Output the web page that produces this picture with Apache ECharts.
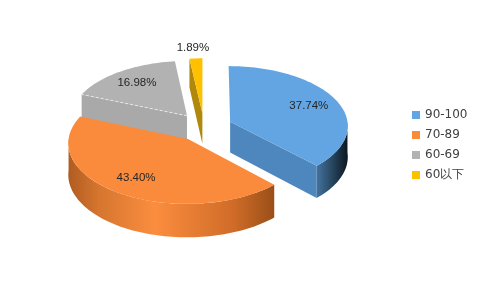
<!DOCTYPE html>
<html>
<head>
<meta charset="utf-8">
<script src="https://cdn.jsdelivr.net/npm/echarts@6/dist/echarts.min.js"></script>
<style>
html,body{margin:0;padding:0;background:#fff;}
#chart{width:480px;height:288px;}
</style>
</head>
<body>
<div id="chart"></div>
<script>
// ---- data ----
const categories = ['90-100', '70-89', '60-69', '60以下'];
const counts = [20, 23, 9, 1];

// ---- styles ----
const topColors = ['#62a5e2', '#fb8b3c', '#b2b2b2', '#ffc000'];
const cutColors = ['#4e86be', '#d0702a', '#a9a9a9', '#b0880c'];
const wallStops = [
  [[0, '#44739f'], [0.5, '#27465f'], [1, '#0c1620']],
  [[0, '#b05c20'], [0.15, '#d6762f'], [0.42, '#fb8d3e'], [0.8, '#d06c28'], [1, '#9a4f18']],
  [[0, '#8a8a8a'], [1, '#6a6a6a']],
  [[0, '#b0880c'], [1, '#8a6a08']]
];

const total = counts.reduce((a, b) => a + b, 0);
const starts = [];
(function () { let c = 0; counts.forEach(v => { starts.push(c); c += v; }); })();

// layout (pixels)
const CX = 204, CY = 127, RX = 118, RY = 59.5, DEPTH = 31, P = 0.06, EXPLODE = 0.24;

function proj(u, v, h) {
  const s = 1 / (1 - P * v);
  return [CX + RX * u * s, CY + RY * v * s + DEPTH * h * s];
}

function renderItem(params, api) {
  const i = params.dataIndex;
  const val = api.value(0);
  const a0 = starts[i] / total * Math.PI * 2;
  const a1 = (starts[i] + val) / total * Math.PI * 2;
  const mid = (a0 + a1) / 2;
  const ou = EXPLODE * Math.sin(mid), ov = -EXPLODE * Math.cos(mid);
  const pt = (a, h, r) => { r = r == null ? 1 : r; return proj(ou + r * Math.sin(a), ov - r * Math.cos(a), h); };
  const arc = (from, to, h) => {
    const n = Math.max(2, Math.ceil(Math.abs(to - from) / 0.03));
    const out = [];
    for (let k = 0; k <= n; k++) out.push(pt(from + (to - from) * k / n, h));
    return out;
  };
  const ovs = counts.map((c, j) => { const m = (starts[j] + c / 2) / total * Math.PI * 2; return -Math.cos(m); });
  const rank = ovs.filter(x => x < -Math.cos(mid)).length;
  const zb = rank * 10;
  const children = [];
  const V0 = proj(ou, ov, 0), V1 = proj(ou, ov, 1);
  if (Math.sin(a0) < -1e-6) {
    children.push({ type: 'polygon', z2: zb + 1, shape: { points: [V0, pt(a0, 0), pt(a0, 1), V1] }, style: { fill: cutColors[i] } });
    if (i === 2) {
      children.push({ type: 'polyline', z2: zb + 4, shape: { points: [V0, pt(a0, 0)] }, style: { stroke: 'rgba(255,255,255,0.6)', lineWidth: 1, lineDash: [3, 2], fill: null } });
    }
  }
  if (Math.sin(a1) > 1e-6) {
    children.push({ type: 'polygon', z2: zb + 1, shape: { points: [V0, pt(a1, 0), pt(a1, 1), V1] }, style: { fill: cutColors[i] } });
  }
  const lo = Math.max(a0, Math.PI / 2), hi = Math.min(a1, Math.PI * 1.5);
  if (hi > lo) {
    const pts = arc(lo, hi, 0).concat(arc(hi, lo, 1));
    children.push({
      type: 'polygon', z2: zb + 2, shape: { points: pts },
      style: { fill: new echarts.graphic.LinearGradient(0, 0, 1, 0, wallStops[i].map(s => ({ offset: s[0], color: s[1] }))) }
    });
  }
  children.push({ type: 'polygon', z2: zb + 3, shape: { points: [V0].concat(arc(a0, a1, 0)) }, style: { fill: topColors[i] } });
  const frac = val / total;
  let lp;
  if (frac < 0.05) {
    const p = pt(mid, 0, 1);
    lp = [p[0] - 3, p[1] - 11];
  } else {
    lp = pt(mid, 0, 0.74);
  }
  children.push({
    type: 'text', z2: 100, x: lp[0], y: lp[1],
    style: { text: (frac * 100).toFixed(2) + '%', fill: '#262626', font: '11.5px "Liberation Sans", Arial, sans-serif', align: 'center', verticalAlign: 'middle' }
  });
  return { type: 'group', children: children };
}

const chart = echarts.init(document.getElementById('chart'), null, { renderer: 'canvas' });
const legendSeries = categories.map((name, i) => ({
  type: 'custom', name: name, coordinateSystem: 'none', data: [],
  renderItem: function () { return null; }, itemStyle: { color: topColors[i] }
}));
chart.setOption({
  animation: false,
  backgroundColor: '#fff',
  legend: {
    data: categories,
    orient: 'vertical',
    left: 407, top: 104,
    icon: 'rect', itemWidth: 8, itemHeight: 8, itemGap: 8,
    textStyle: { fontSize: 12, color: '#404040', fontFamily: '"DejaVu Sans", sans-serif' },
    selectedMode: false
  },
  series: [{
    type: 'custom', name: 'pie3d', coordinateSystem: 'none',
    data: counts.map((c, i) => ({ name: categories[i], value: [c] })),
    renderItem: renderItem
  }].concat(legendSeries)
});
</script>
</body>
</html>
